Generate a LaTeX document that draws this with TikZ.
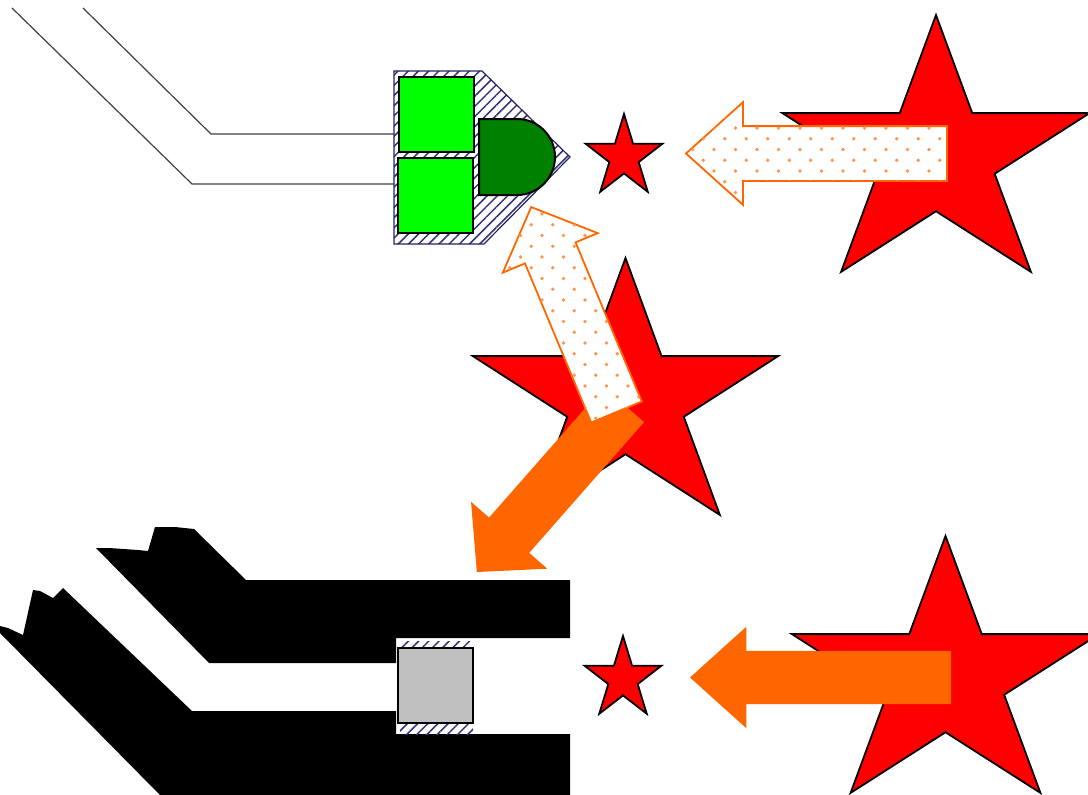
\documentclass[tikz,border=0pt]{standalone}
\usetikzlibrary{arrows.meta,positioning,calc,shapes.geometric,shapes.arrows,patterns.meta}
\definecolor{Signal}{HTML}{FF6600}
\definecolor{Hatch}{HTML}{33337F}
\definecolor{Lit}{HTML}{00FF00}
\definecolor{Dark}{HTML}{008000}
\definecolor{Idle}{HTML}{C0C0C0}
\pgfdeclarepatternformonly{halfdots}{\pgfqpoint{0pt}{-5pt}}{\pgfqpoint{21.5pt}{16.5pt}}{\pgfqpoint{21.5pt}{21.5pt}}{
  \pgfpathcircle{\pgfqpoint{4.5pt}{0.5pt}}{1.9pt}\pgfusepath{fill}
  \pgfpathcircle{\pgfqpoint{15.25pt}{11.25pt}}{1.9pt}\pgfusepath{fill}
}
\tikzset{
  redstar/.style={star,star points=5,star point ratio=2.618,draw=black,fill=red,line width=1.8pt,inner sep=0pt,outer sep=0pt,transform shape},
  blockarrow/.style={single arrow,anchor=tail,minimum height=#1,text height=26.5pt,text depth=26.5pt,single arrow head extend=24pt,single arrow tip angle=84,inner sep=0pt,outer sep=0pt,transform shape},
  dotarrow/.style={blockarrow=#1,draw=Signal,line width=1.8pt,fill=white,postaction={pattern=halfdots,pattern color=Signal!70}},
  fullarrow/.style={blockarrow=#1,fill=Signal},
  cellbox/.style={draw=black,line width=2pt,minimum size=75pt,inner sep=0pt,outer sep=0pt},
  hatchfill/.style={pattern={Lines[angle=45,distance=7.2pt,line width=1.5pt]},pattern color=Hatch},
  wire/.style={draw=black!75,line width=1.2pt}
}
\begin{document}
\begin{tikzpicture}[x=1pt,y=-1pt]
  \clip (0,0) rectangle (1088,795);

  % stars
  \node[redstar,minimum size=284pt,xscale=1.137] (starA) at (936,157) {};
  \node[redstar,minimum size=284pt,xscale=1.13] (starB) at (625.5,400) {};
  \node[redstar,minimum size=284pt,xscale=1.137] (starC) at (945.5,678) {};
  \node[redstar,minimum size=86pt,xscale=0.94] (dotA) at (624,157) {};
  \node[redstar,minimum size=86pt,xscale=0.94] (dotB) at (623,679) {};

  % upper part
  \coordinate (wireA) at (83,8);
  \coordinate (wireB) at (12,8);
  \draw[wire] (wireA) -- (211,134) -- (394,134);
  \draw[wire] (wireB) -- (192,184) -- (394,184);
  \draw[line width=1.2pt,draw=Hatch!70!black,hatchfill] (394,71) -- (482,71) -- (570,157) -- (484,244) -- (394,244) -- cycle;
  \node[cellbox,fill=Lit] (cellA) at (436,114.5) {};
  \node[cellbox,fill=Lit] (cellB) at (435,195.5) {};
  \draw[line width=2pt,fill=Dark] (479,119) -- (517,119) arc[start angle=-90,end angle=90,radius=38] -- (479,195) -- cycle;

  % lower part
  \fill[black] (96,548) -- (109,548) -- (138,550) -- (148,551) -- (155,527) -- (175,527) -- (194,529) -- (246,580) -- (570,580) -- (570,638) -- (396,638) -- (396,663) -- (209,663) -- cycle;
  \fill[black] (0,626) -- (8,628) -- (23,635) -- (33,590) -- (40,591) -- (53,598) -- (63,588) -- (192,711) -- (396,711) -- (396,734) -- (570,734) -- (570,795) -- (160,795) -- (0,633) -- cycle;
  \fill[hatchfill] (400,641) rectangle (473,734);
  \node[cellbox,fill=Idle] (cellC) at (435,685) {};

  % arrows
  \node[fullarrow=261pt,rotate=180] (arrowD) at (951,677.5) {};
  \node[dotarrow=261pt,rotate=180] (arrowA) at (947,153.5) {};
  \node[fullarrow=223pt,single arrow tip angle=92,rotate=228.7] (arrowC) at (624,404.5) {};
  \node[dotarrow=222pt,single arrow tip angle=92,rotate=112.6] (arrowB) at (616.5,412) {};
\end{tikzpicture}
\end{document}
